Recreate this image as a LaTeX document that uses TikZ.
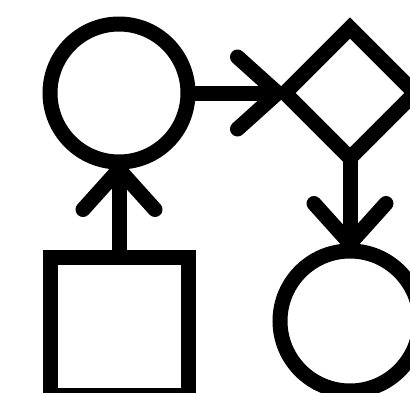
\documentclass[tikz,border=0pt]{standalone}
\usetikzlibrary{shapes.geometric,arrows.meta}
\begin{document}
\begin{tikzpicture}[x=1pt,y=-1pt,
  shapebox/.style={draw=black,line width=15pt,inner sep=0pt,outer sep=0pt,minimum size=138pt},
  roundbox/.style={shapebox,circle},
  squarebox/.style={shapebox,rectangle},
  diamondbox/.style={draw=black,line width=15pt,inner sep=0pt,outer sep=0pt,diamond,aspect=1,minimum width=130pt,minimum height=130pt},
  conn/.style={line width=15pt,-{Straight Barb[length=40pt,width=72pt,round]}}]
\useasboundingbox (0,0) rectangle (410,392);
\clip (0,0) rectangle (410,392);
\node[roundbox] (c1) at (119,93) {};
\node[diamondbox] (d) at (350,93) {};
\node[squarebox] (s) at (119,326) {};
\node[roundbox,minimum size=140pt] (c2) at (350,321) {};
\draw[conn] (c1) -- (d);
\draw[conn] (s) -- (c1);
\draw[conn] (d) -- (c2);
\end{tikzpicture}
\end{document}
